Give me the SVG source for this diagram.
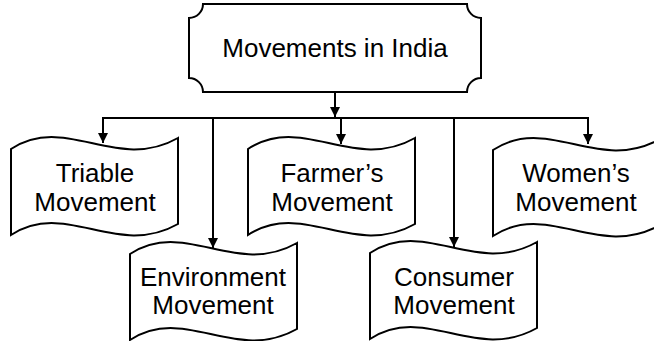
<svg xmlns="http://www.w3.org/2000/svg" width="654" height="341" viewBox="0 0 654 341">
<style>
.shape{fill:#fff;stroke:#000;stroke-width:2;stroke-linejoin:miter}
.lbl{font-family:"Liberation Sans",Arial,sans-serif;font-size:26px;fill:#000;text-anchor:middle}
.conn{fill:none;stroke:#000;stroke-width:2}
</style>
<defs>
<marker id="arr" viewBox="0 0 10 10" refX="10" refY="5" markerWidth="10" markerHeight="10" markerUnits="userSpaceOnUse" orient="auto">
<path d="M0,0 L10,5 L0,10 Z" fill="#000"/>
</marker>
<path id="tape" d="M0,11 C55,-25 105,35 167,0 L167,86 C105,121 55,61 0,97 Z"/>
</defs>
<rect width="654" height="341" fill="#fff"/>
<g id="connectors">
<line class="conn" x1="335" y1="92" x2="335" y2="117" marker-end="url(#arr)"/>
<line class="conn" x1="102" y1="118" x2="589" y2="118"/>
<line class="conn" x1="103" y1="118" x2="103" y2="143" marker-end="url(#arr)"/>
<line class="conn" x1="341" y1="118" x2="341" y2="144" marker-end="url(#arr)"/>
<line class="conn" x1="588" y1="118" x2="588" y2="144" marker-end="url(#arr)"/>
<line class="conn" x1="213" y1="118" x2="213" y2="248" marker-end="url(#arr)"/>
<line class="conn" x1="454" y1="118" x2="454" y2="247" marker-end="url(#arr)"/>
</g>
<g id="root">
<path class="shape" d="M203,4 H467 A14,14 0 0 0 481,18 V78 A14,14 0 0 0 467,92 H203 A14,14 0 0 0 189,78 V18 A14,14 0 0 0 203,4 Z"/>
<text class="lbl" x="335" y="57">Movements in India</text>
</g>
<g id="triable">
<use href="#tape" class="shape" transform="translate(11,138)"/>
<text class="lbl" x="95" y="182">Triable</text>
<text class="lbl" x="95" y="211">Movement</text>
</g>
<g id="farmers">
<use href="#tape" class="shape" transform="translate(248,138)"/>
<text class="lbl" x="332" y="182">Farmer’s</text>
<text class="lbl" x="332" y="211">Movement</text>
</g>
<g id="womens">
<use href="#tape" class="shape" transform="translate(493,139)"/>
<text class="lbl" x="576" y="182">Women’s</text>
<text class="lbl" x="576" y="211">Movement</text>
</g>
<g id="environment">
<use href="#tape" class="shape" transform="translate(130,243)"/>
<text class="lbl" x="213" y="286">Environment</text>
<text class="lbl" x="213" y="314">Movement</text>
</g>
<g id="consumer">
<use href="#tape" class="shape" transform="translate(370,242)"/>
<text class="lbl" x="454" y="286">Consumer</text>
<text class="lbl" x="454" y="314">Movement</text>
</g>
</svg>
